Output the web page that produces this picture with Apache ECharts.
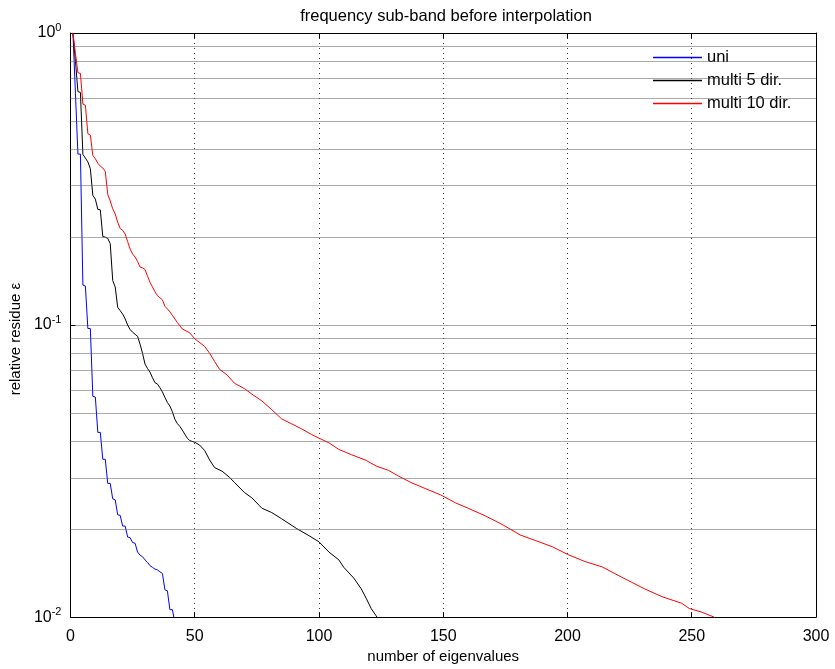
<!DOCTYPE html>
<html>
<head>
<meta charset="utf-8">
<script src="https://cdn.jsdelivr.net/npm/echarts@6/dist/echarts.min.js"></script>
<style>html,body{margin:0;padding:0;background:#fff;}#c{width:835px;height:669px;}</style>
</head>
<body>
<div id="c"></div>
<script>
const titleText = 'frequency sub-band before interpolation';
const xName = 'number of eigenvalues';
const yName = 'relative residue \u03b5';
const seriesNames = ['uni', 'multi 5 dir.', 'multi 10 dir.'];
const seriesColors = ['#0000ff', '#000000', '#ff0000'];
const xTicks = [0, 50, 100, 150, 200, 250, 300];
const yMinorGrid = [0.02,0.03,0.04,0.05,0.06,0.07,0.08,0.09,0.2,0.3,0.4,0.5,0.6,0.7,0.8,0.9];

const uniX = [1,2,3,4,5,6,7,8,9,10,11,12,13,14,15,16,17,18,19,20,21,22,23,24,25,26,27,28,29,30,31,32,33,34,35,36,37,38,39,40,41,42];
const uniY = [1.0,0.62,0.385,0.385,0.137,0.136,0.0973,0.0973,0.0570,0.0567,0.0429,0.0429,0.0347,0.0347,0.0287,0.0287,0.0254,0.0252,0.0224,0.0223,0.0205,0.0205,0.0188,0.0187,0.0180,0.0179,0.0167,0.0163,0.0161,0.0157,0.0154,0.0150,0.0148,0.0146,0.0145,0.0143,0.0141,0.0124,0.0123,0.0106,0.0106,0.0096];

const m5X = [1,2,3,4,5,6,7,8,9,10,11,12,13,14,15,16,17,18,19,20,21,22,23,24,25,26,27,28,29,30,31,32,33,34,35,36,37,38,39,40,41,42,43,44,45,46,47,48,50,52,54,56,58,61,64,66,70,73,76,77,81,85,91,96,100,104,108,110,114,117,119,121,123,124];
const m5Y = [1.0,0.80,0.63,0.626,0.384,0.373,0.362,0.343,0.278,0.27,0.249,0.248,0.201,0.200,0.198,0.190,0.142,0.135,0.115,0.112,0.109,0.105,0.100,0.0965,0.0945,0.093,0.0915,0.086,0.080,0.0735,0.071,0.069,0.066,0.0635,0.0628,0.061,0.059,0.0565,0.0543,0.0528,0.0505,0.0476,0.046,0.045,0.0437,0.0423,0.041,0.0402,0.0397,0.0388,0.0372,0.0345,0.0325,0.0316,0.0301,0.0289,0.0267,0.0256,0.0241,0.0236,0.0228,0.0217,0.0201,0.0190,0.0181,0.0167,0.0157,0.0148,0.0136,0.0125,0.0116,0.0107,0.0101,0.0098];

const m10X = [1,2,3,4,5,6,7,8,9,10,11,12,13,14,15,16,17,18,19,20,21,22,23,24,25,26,27,28,29,30,31,32,33,34,35,36,37,38,39,40,41,43,45,48,50,54,56,58,60,63,66,70,73,77,81,85,89,93,97,100,104,108,113,119,123,128,132,137,143,149,155,160,167,174,181,187,194,200,207,214,219,224,231,238,246,249,254,259,260];
const m10Y = [1.0,0.85,0.731,0.727,0.571,0.566,0.452,0.447,0.381,0.371,0.358,0.35,0.345,0.336,0.28,0.266,0.25,0.24,0.225,0.214,0.211,0.205,0.193,0.182,0.175,0.171,0.165,0.158,0.157,0.155,0.147,0.140,0.135,0.130,0.126,0.124,0.122,0.116,0.1135,0.111,0.108,0.102,0.097,0.0940,0.0898,0.0845,0.0800,0.0750,0.0705,0.0675,0.0632,0.0606,0.0580,0.0550,0.0513,0.0477,0.0459,0.0441,0.0422,0.0410,0.0395,0.0375,0.0360,0.0344,0.0329,0.0318,0.0304,0.0289,0.0275,0.0262,0.0246,0.0236,0.0222,0.0207,0.0191,0.0183,0.0174,0.0164,0.0155,0.01485,0.0141,0.0134,0.0125,0.01175,0.01115,0.0107,0.0104,0.0100,0.0098];

const FONT = '"Liberation Sans", Arial, Helvetica, sans-serif';
const xsList = [uniX, m5X, m10X];
const ysList = [uniY, m5Y, m10Y];

const chart = echarts.init(document.getElementById('c'), null, {renderer: 'canvas'});

const dataSeries = seriesNames.map((name, i) => ({
  name: name,
  type: 'line',
  xAxisIndex: 0,
  yAxisIndex: 0,
  data: xsList[i].map((x, k) => [x, ysList[i][k]]),
  showSymbol: false,
  symbol: 'none',
  clip: true,
  lineStyle: {color: seriesColors[i], width: 1},
  itemStyle: {color: seriesColors[i]},
  z: 3,
  animation: false
}));

const gridSeries = {
  name: '_grid',
  type: 'line',
  data: [],
  xAxisIndex: 0,
  yAxisIndex: 0,
  z: 1,
  silent: true,
  animation: false,
  markLine: {
    silent: true,
    symbol: ['none', 'none'],
    label: {show: false},
    animation: false,
    lineStyle: {type: [1, 1], color: '#555', width: 1},
    data: yMinorGrid.map(v => ({yAxis: v}))
  }
};

const expLabel = v => {
  const e = Math.round(Math.log10(v));
  return '{b|10}{s|' + e + '}';
};

const option = {
  animation: false,
  backgroundColor: '#fff',
  textStyle: {fontFamily: FONT},
  title: {
    text: titleText,
    left: 441,
    textAlign: 'center',
    top: 3,
    textStyle: {fontFamily: FONT, fontSize: 16.5, fontWeight: 'normal', color: '#000'}
  },
  legend: {
    data: seriesNames,
    orient: 'vertical',
    left: 648,
    top: 44,
    itemWidth: 49,
    itemHeight: 1.5,
    itemGap: 6,
    icon: 'rect',
    textStyle: {fontFamily: FONT, fontSize: 16.5, color: '#000', lineHeight: 15},
    selectedMode: false
  },
  grid: {left: 68, right: 19, top: 33, bottom: 47, containLabel: false},
  xAxis: [{
    type: 'value', min: 0, max: 300, interval: 50, position: 'bottom',
    name: xName, nameLocation: 'middle', nameGap: 30,
    nameTextStyle: {fontFamily: FONT, fontSize: 15, color: '#000'},
    axisLine: {show: true, onZero: false, lineStyle: {color: '#000', width: 1}},
    axisTick: {show: true, inside: true, length: 5, lineStyle: {color: '#000'}},
    axisLabel: {fontFamily: FONT, fontSize: 16, color: '#000', margin: 11, formatter: v => String(v)},
    splitLine: {show: true, lineStyle: {type: [1, 4], color: '#333', width: 1}}
  }, {
    type: 'value', min: 0, max: 300, interval: 50, position: 'top',
    axisLine: {show: true, onZero: false, lineStyle: {color: '#000', width: 1}},
    axisTick: {show: true, inside: true, length: 5, lineStyle: {color: '#000'}},
    axisLabel: {show: false},
    splitLine: {show: false}
  }],
  yAxis: [{
    type: 'log', logBase: 10, min: 0.01, max: 1, position: 'left',
    name: yName, nameLocation: 'middle', nameGap: 44, nameRotate: 90,
    nameTextStyle: {fontFamily: FONT, fontSize: 15, color: '#000', padding: [0, 28, 0, 0]},
    axisLine: {show: true, onZero: false, lineStyle: {color: '#000', width: 1}},
    axisTick: {show: true, inside: true, length: 5, lineStyle: {color: '#000'}},
    axisLabel: {
      margin: 9,
      formatter: expLabel,
      rich: {
        b: {fontFamily: FONT, fontSize: 16, color: '#000'},
        s: {fontFamily: FONT, fontSize: 11, color: '#000', verticalAlign: 'top', padding: [0, 0, 10, 0]}
      }
    },
    splitLine: {show: true, lineStyle: {type: [1, 1], color: '#555', width: 1}}
  }, {
    type: 'log', logBase: 10, min: 0.01, max: 1, position: 'right',
    axisLine: {show: true, onZero: false, lineStyle: {color: '#000', width: 1}},
    axisTick: {show: true, inside: true, length: 5, lineStyle: {color: '#000'}},
    axisLabel: {show: false},
    splitLine: {show: false}
  }],
  series: [gridSeries].concat(dataSeries)
};

chart.setOption(option);
</script>
</body>
</html>
